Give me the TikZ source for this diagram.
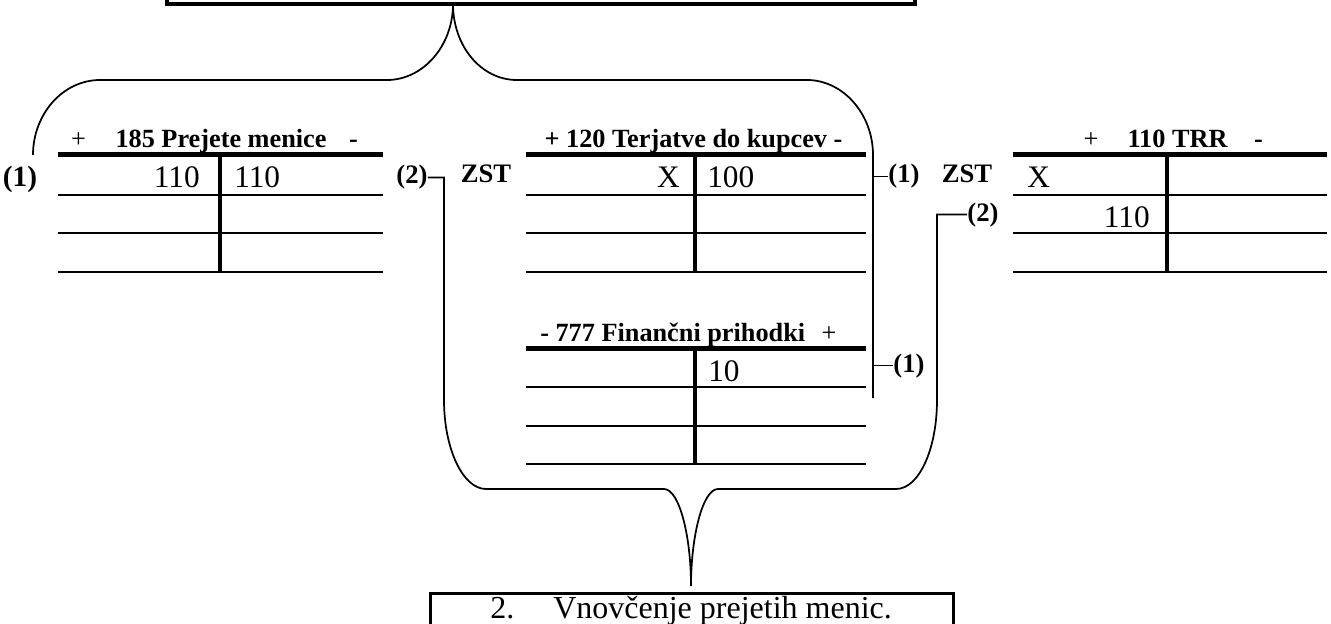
\documentclass[tikz,border=0pt]{standalone}
\usepackage{fontspec}
\setmainfont{Liberation Serif}
\begin{document}
\begin{tikzpicture}[x=0.75pt,y=-0.75pt,
  hdr/.style={font=\fontsize{19.7}{22}\selectfont\bfseries, inner sep=0pt, anchor=base},
  hdrsym/.style={font=\fontsize{19.7}{22}\selectfont, inner sep=0pt, anchor=base},
  num/.style={font=\fontsize{23.5}{26}\selectfont, inner sep=0pt},
  lbl/.style={font=\fontsize{20}{22}\selectfont\bfseries, inner sep=0pt, anchor=base},
  brace/.style={line width=1.3pt},
  hrule/.style={line width=1.5pt},
  trule/.style={line width=3.75pt},
  vrule/.style={line width=3.2pt},
  box/.style={draw, inner sep=0pt, outer sep=0pt}]
\useasboundingbox (0,0) rectangle (1331,624);
\clip (0,0) rectangle (1331,624);

% boxes
\node[box, line width=3pt, minimum width=561pt, minimum height=45pt, anchor=south west] (topbox) at (167,4) {};
\node[box, line width=2.25pt, minimum width=392.25pt, minimum height=45pt, anchor=north west] (botbox) at (430,593) {};
\node[font=\fontsize{24}{27}\selectfont, inner sep=0pt, anchor=base west] (botnum) at (490,618) {2.};
\node[font=\fontsize{24}{27}\selectfont, inner sep=0pt, anchor=base west] (bottxt) at (553,618) {Vnovčenje prejetih menic.};

% T-account 185
\draw[trule] (58,155) -- (383,155);
\draw[hrule] (58,195) -- (383,195) (58,233) -- (383,233) (58,272) -- (383,272);
\draw[vrule] (220,155) -- (220,272);
\node[hdrsym] (h1p) at (78.5,148) {+};
\node[hdr] (h1) at (221,148) {185 Prejete menice};
\node[hdr] (h1m) at (353.5,148) {-};
\node[num, anchor=base east] (t1a) at (200,188) {110};
\node[num, anchor=base west] (t1b) at (234,188) {110};

% T-account 120
\draw[trule] (526,155) -- (866,155);
\draw[hrule] (526,195) -- (866,195) (526,233) -- (866,233) (526,272) -- (866,272);
\draw[vrule] (695,155) -- (695,272);
\node[hdr] (h2) at (693.5,148) {+ 120 Terjatve do kupcev -};
\node[num, anchor=base east] (t2a) at (680,188) {X};
\node[num, anchor=base west] (t2b) at (707,188) {100};

% T-account 110
\draw[trule] (1013,155) -- (1327,155);
\draw[hrule] (1013,195) -- (1327,195) (1013,233) -- (1327,233) (1013,272) -- (1327,272);
\draw[vrule] (1167,155) -- (1167,272);
\node[hdrsym] (h3p) at (1091,148) {+};
\node[hdr] (h3) at (1177.5,148) {110 TRR};
\node[hdr] (h3m) at (1258.5,148) {-};
\node[num, anchor=base west] (t3a) at (1027,188) {X};
\node[num, anchor=base east] (t3b) at (1150,227) {110};

% T-account 777
\draw[trule] (526,348) -- (866,348);
\draw[hrule] (526,387) -- (866,387) (526,426) -- (866,426) (526,464) -- (866,464);
\draw[vrule] (695,348) -- (695,464);
\node[hdr, anchor=base west] (h4) at (540,341) {- 777 Finančni prihodki};
\node[hdrsym] (h4p) at (829,341) {+};
\node[num, anchor=base west] (t4b) at (708,381) {10};

% labels
\node[lbl, font=\fontsize{22}{24}\selectfont\bfseries] (l1) at (20,186) {(1)};
\node[lbl] (l2) at (412,184) {(2)};
\node[lbl] (zst1) at (486,183) {ZST};
\node[lbl] (r1) at (904,183) {(1)};
\node[lbl] (zst2) at (967,183) {ZST};
\node[lbl] (r2) at (983,221) {(2)};
\node[lbl] (b1) at (909,372) {(1)};

% top brace
\coordinate (tip1) at (topbox.south -| 453,0);
\coordinate (lend) at (33,155);
\coordinate (tbR) at (873,398);
\draw[brace] (lend) .. controls (33,114) and (63,80) .. (100,80) -- (387,80)
  .. controls (423,80) and (453,46) .. (tip1)
  .. controls (453,46) and (481,80) .. (517,80) -- (807,80)
  .. controls (843,80) and (873,114) .. (873,155) -- (tbR);
\draw[brace] (r1.west) -- (r1.west -| tbR);
\draw[brace] (b1.west) -- (b1.west -| tbR);

% bottom brace
\coordinate (tip2) at (691,586);
\draw[brace] (l2.east) -| (444,400)
  .. controls (444,449) and (463,489) .. (486,489) -- (664,489)
  .. controls (679,489) and (691,535) .. (tip2)
  .. controls (691,535) and (703,489) .. (718,489) -- (896,489)
  .. controls (919,489) and (937,449) .. (937,400) |- (r2.west);
\end{tikzpicture}
\end{document}
